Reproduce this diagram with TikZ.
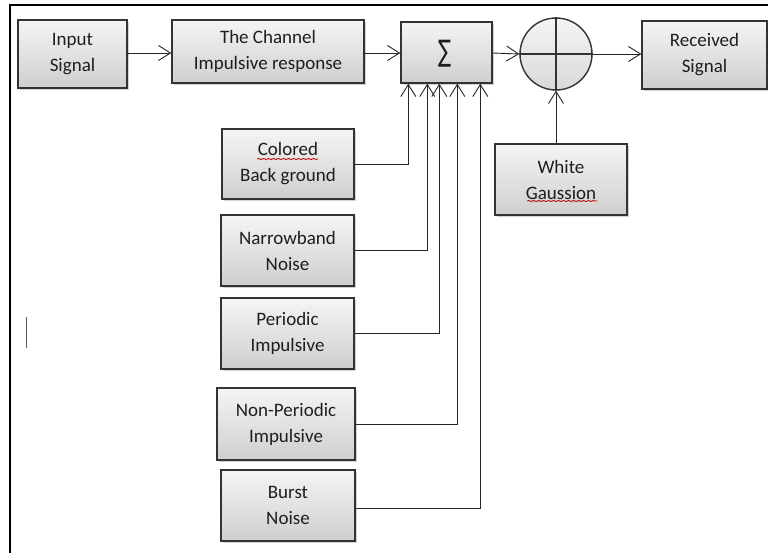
\documentclass[tikz,border=0pt]{standalone}
\usepackage{fontspec}
\usepackage{graphicx}
\setmainfont{Carlito}
\newfontfamily\djv{DejaVu Sans}
\usetikzlibrary{arrows.meta,shadows,decorations.pathmorphing}
\definecolor{txt}{HTML}{1E1E1E}
\definecolor{edge}{HTML}{333333}
\begin{document}
\begin{tikzpicture}[x=1pt,y=-1pt,
  box/.style={draw=edge, line width=1.4pt, top color=gray!8, bottom color=gray!38,
    drop shadow={shadow xshift=1.5pt, shadow yshift=-2pt, opacity=0.35},
    align=center, inner sep=0pt, text=txt,
    font=\fontsize{19}{26}\selectfont},
  arr/.style={draw=black!85, line width=0.9pt, -{Straight Barb[length=12pt,width=15pt,line width=0.9pt]}},
  spell/.style={draw=red!75!black, line width=0.8pt, decorate,
    decoration={snake, amplitude=0.5pt, segment length=5pt}}]
\useasboundingbox (0,0) rectangle (768,553);
\fill[white] (0,0) rectangle (768,553);
% frame
\draw[line width=2.5pt, line cap=butt] (10,553) -- (10,5) -- (768,5);
% text cursor
\draw[gray!70!black, line width=1.6pt] (26.5,317) -- (26.5,348);

\node[box, minimum width=109pt, minimum height=68pt] (in) at (72.5,54) {Input\\Signal};
\node[box, minimum width=192pt, minimum height=63pt] (ch) at (268,51.5) {The Channel\\Impulsive response};
\node[box, minimum width=91pt, minimum height=61pt] (sig) at (446.5,52.5) {};
\node[inner sep=0pt, text=txt] (sigsym) at (445,53.5) {\resizebox*{13pt}{27pt}{\djv ∑}};
\node[circle, draw=edge, line width=1.4pt, top color=gray!8, bottom color=gray!30,
  minimum size=72pt, inner sep=0pt] (circ) at (556,54) {};
\draw[edge, line width=1.2pt] (circ.north) -- (circ.south) (circ.west) -- (circ.east);
\node[box, minimum width=125pt, minimum height=68pt] (rec) at (704.5,55) {Received\\Signal};
\node[box, minimum width=132pt, minimum height=71pt] (wg) at (561,179.5) {White\\Gaussion};

\node[box, minimum width=132pt, minimum height=70pt] (cb) at (288,164) {Colored\\Back ground};
\node[box, minimum width=133pt, minimum height=71pt] (nb) at (287.5,250.5) {Narrowband\\Noise};
\node[box, minimum width=133pt, minimum height=71pt] (pi) at (287.5,333.5) {Periodic\\Impulsive};
\node[box, minimum width=138pt, minimum height=72pt] (np) at (286,424) {Non-Periodic\\Impulsive};
\node[box, minimum width=134pt, minimum height=71pt] (bn) at (288,505.5) {Burst\\Noise};

% spell-check underlines
\draw[spell] (257,159) -- (318,159);
\draw[spell] (527,201) -- (597,201);

% main chain
\draw[arr] (in.east |- 0,53) -- (ch.west |- 0,53);
\draw[arr] (ch.east |- 0,53) -- (sig.west |- 0,53);
\draw[arr] (sig.east |- 0,53) -- (circ.west);
\draw[arr] (circ.east) -- (circ.east -| rec.west);
\draw[arr] (circ.south |- wg.north) -- (circ.south);

% noise sources into sum
\draw[arr] (cb.east) -| ([xshift=8pt]sig.south west);
\draw[arr] (nb.east) -| ([xshift=27pt]sig.south west);
\draw[arr] (pi.east) -| ([xshift=39pt]sig.south west);
\draw[arr] (np.east) -| ([xshift=57pt]sig.south west);
\draw[arr] ([yshift=-3pt]bn.east) -| ([xshift=80pt]sig.south west);
\end{tikzpicture}
\end{document}
